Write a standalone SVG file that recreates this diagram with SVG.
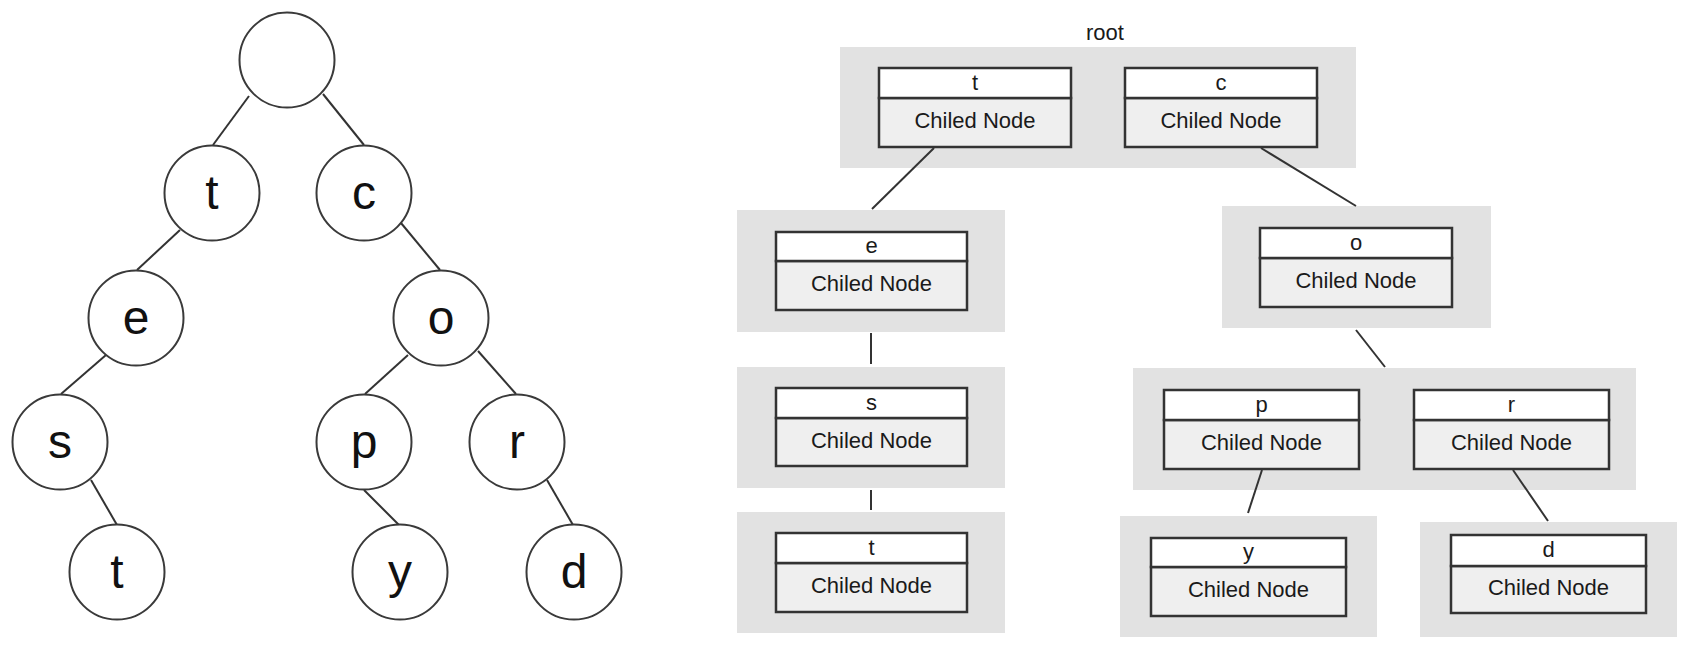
<svg xmlns="http://www.w3.org/2000/svg" width="1688" height="651" viewBox="0 0 1688 651">
<style>
.circ{fill:#fff;stroke:#3a3a3a;stroke-width:2}
.let{font-family:"Liberation Sans",Arial,sans-serif;font-size:48px;fill:#111;text-anchor:middle}
.edge{stroke:#333;stroke-width:2;fill:none}
.panel{fill:#e2e2e2}
.hdr{fill:#fff;stroke:#333;stroke-width:2.5}
.body{fill:#efefef;stroke:#333;stroke-width:2.5}
.lbl{font-family:"Liberation Sans",Arial,sans-serif;font-size:22px;fill:#1a1a1a;text-anchor:middle}
</style>
<rect width="1688" height="651" fill="#fff"/>
<g id="tree-edges">
<line class="edge" x1="249" y1="96" x2="213" y2="145"/>
<line class="edge" x1="323" y1="94" x2="364" y2="145"/>
<line class="edge" x1="180" y1="230" x2="137" y2="270"/>
<line class="edge" x1="401" y1="223" x2="440" y2="270"/>
<line class="edge" x1="106" y1="355" x2="61" y2="394"/>
<line class="edge" x1="91" y1="480" x2="117" y2="525"/>
<line class="edge" x1="408" y1="355" x2="365" y2="394"/>
<line class="edge" x1="478" y1="351" x2="516" y2="394"/>
<line class="edge" x1="364" y1="490" x2="399" y2="525"/>
<line class="edge" x1="547" y1="480" x2="573" y2="525"/>
</g>
<g id="c-root"><circle class="circ" cx="287" cy="60" r="47.5"/></g>
<g id="c-t"><circle class="circ" cx="212" cy="193" r="47.5"/><text class="let" x="212" y="209">t</text></g>
<g id="c-c"><circle class="circ" cx="364" cy="193" r="47.5"/><text class="let" x="364" y="209">c</text></g>
<g id="c-e"><circle class="circ" cx="136" cy="318" r="47.5"/><text class="let" x="136" y="334">e</text></g>
<g id="c-o"><circle class="circ" cx="441" cy="318" r="47.5"/><text class="let" x="441" y="334">o</text></g>
<g id="c-s"><circle class="circ" cx="60" cy="442" r="47.5"/><text class="let" x="60" y="458">s</text></g>
<g id="c-p"><circle class="circ" cx="364" cy="442" r="47.5"/><text class="let" x="364" y="458">p</text></g>
<g id="c-r"><circle class="circ" cx="517" cy="442" r="47.5"/><text class="let" x="517" y="458">r</text></g>
<g id="c-t2"><circle class="circ" cx="117" cy="572" r="47.5"/><text class="let" x="117" y="588">t</text></g>
<g id="c-y"><circle class="circ" cx="400" cy="572" r="47.5"/><text class="let" x="400" y="588">y</text></g>
<g id="c-d"><circle class="circ" cx="574" cy="572" r="47.5"/><text class="let" x="574" y="588">d</text></g>

<g id="n-root">
<text class="lbl" x="1105" y="40">root</text>
<rect class="panel" x="840" y="47" width="516" height="121"/>
<rect class="body" x="879" y="98" width="192" height="49"/>
<rect class="hdr" x="879" y="68" width="192" height="30"/>
<text class="lbl" x="975" y="90">t</text>
<text class="lbl" x="975" y="128">Chiled Node</text>
<rect class="body" x="1125" y="98" width="192" height="49"/>
<rect class="hdr" x="1125" y="68" width="192" height="30"/>
<text class="lbl" x="1221" y="90">c</text>
<text class="lbl" x="1221" y="128">Chiled Node</text>
</g>

<g id="n-e">
<rect class="panel" x="737" y="210" width="268" height="122"/>
<rect class="body" x="776" y="261" width="191" height="49"/>
<rect class="hdr" x="776" y="232" width="191" height="29"/>
<text class="lbl" x="871.5" y="253">e</text>
<text class="lbl" x="871.5" y="291">Chiled Node</text>
</g>

<g id="n-s">
<rect class="panel" x="737" y="367" width="268" height="121"/>
<rect class="body" x="776" y="418" width="191" height="48"/>
<rect class="hdr" x="776" y="388" width="191" height="30"/>
<text class="lbl" x="871.5" y="410">s</text>
<text class="lbl" x="871.5" y="448">Chiled Node</text>
</g>

<g id="n-t">
<rect class="panel" x="737" y="512" width="268" height="121"/>
<rect class="body" x="776" y="563" width="191" height="49"/>
<rect class="hdr" x="776" y="533" width="191" height="30"/>
<text class="lbl" x="871.5" y="555">t</text>
<text class="lbl" x="871.5" y="593">Chiled Node</text>
</g>

<g id="n-o">
<rect class="panel" x="1222" y="206" width="269" height="122"/>
<rect class="body" x="1260" y="258" width="192" height="49"/>
<rect class="hdr" x="1260" y="228" width="192" height="30"/>
<text class="lbl" x="1356" y="250">o</text>
<text class="lbl" x="1356" y="288">Chiled Node</text>
</g>

<g id="n-pr">
<rect class="panel" x="1133" y="368" width="503" height="122"/>
<rect class="body" x="1164" y="420" width="195" height="49"/>
<rect class="hdr" x="1164" y="390" width="195" height="30"/>
<text class="lbl" x="1261.5" y="412">p</text>
<text class="lbl" x="1261.5" y="450">Chiled Node</text>
<rect class="body" x="1414" y="420" width="195" height="49"/>
<rect class="hdr" x="1414" y="390" width="195" height="30"/>
<text class="lbl" x="1511.5" y="412">r</text>
<text class="lbl" x="1511.5" y="450">Chiled Node</text>
</g>

<g id="n-y">
<rect class="panel" x="1120" y="516" width="257" height="121"/>
<rect class="body" x="1151" y="567" width="195" height="49"/>
<rect class="hdr" x="1151" y="538" width="195" height="29"/>
<text class="lbl" x="1248.5" y="559">y</text>
<text class="lbl" x="1248.5" y="597">Chiled Node</text>
</g>

<g id="n-d">
<rect class="panel" x="1420" y="522" width="257" height="115"/>
<rect class="body" x="1451" y="566" width="195" height="47"/>
<rect class="hdr" x="1451" y="535" width="195" height="31"/>
<text class="lbl" x="1548.5" y="557">d</text>
<text class="lbl" x="1548.5" y="595">Chiled Node</text>
</g>

<g id="connectors">
<line class="edge" x1="934" y1="148" x2="872" y2="209"/>
<line class="edge" x1="1261" y1="148" x2="1356" y2="206"/>
<line class="edge" x1="871" y1="333" x2="871" y2="364"/>
<line class="edge" x1="871" y1="490" x2="871" y2="510"/>
<line class="edge" x1="1356" y1="330" x2="1385" y2="367"/>
<line class="edge" x1="1262" y1="470" x2="1248" y2="513"/>
<line class="edge" x1="1513" y1="470" x2="1548" y2="521"/>
</g>
</svg>
